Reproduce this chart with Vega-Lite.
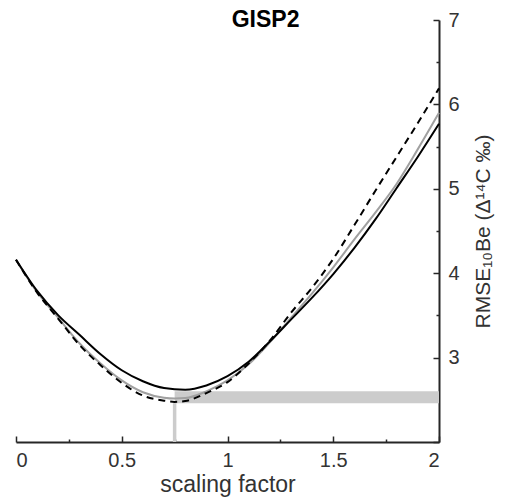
{
  "$schema": "https://vega.github.io/schema/vega-lite/v6.json",
  "autosize": "none",
  "padding": {"left": 16, "top": 20, "right": 66, "bottom": 59},
  "width": 423,
  "height": 422,
  "background": "white",
  "config": {"view": {"stroke": null}, "font": "Liberation Sans"},
  "datasets": {
    "curves": [
      {"series": "gray", "x": 0.0, "y": 4.16}, {"series": "gray", "x": 0.1, "y": 3.775}, {"series": "gray", "x": 0.2, "y": 3.47},
      {"series": "gray", "x": 0.3, "y": 3.17}, {"series": "gray", "x": 0.4, "y": 2.93}, {"series": "gray", "x": 0.5, "y": 2.73},
      {"series": "gray", "x": 0.6, "y": 2.59}, {"series": "gray", "x": 0.7, "y": 2.525}, {"series": "gray", "x": 0.75, "y": 2.515},
      {"series": "gray", "x": 0.8, "y": 2.52}, {"series": "gray", "x": 0.9, "y": 2.6}, {"series": "gray", "x": 1.0, "y": 2.73},
      {"series": "gray", "x": 1.1, "y": 2.92}, {"series": "gray", "x": 1.2, "y": 3.18}, {"series": "gray", "x": 1.3, "y": 3.47},
      {"series": "gray", "x": 1.4, "y": 3.76}, {"series": "gray", "x": 1.5, "y": 4.07}, {"series": "gray", "x": 1.6, "y": 4.4},
      {"series": "gray", "x": 1.7, "y": 4.72}, {"series": "gray", "x": 1.8, "y": 5.06}, {"series": "gray", "x": 1.9, "y": 5.47},
      {"series": "gray", "x": 2.0, "y": 5.9},
      {"series": "black", "x": 0.0, "y": 4.16}, {"series": "black", "x": 0.1, "y": 3.79}, {"series": "black", "x": 0.2, "y": 3.5},
      {"series": "black", "x": 0.3, "y": 3.27}, {"series": "black", "x": 0.4, "y": 3.04}, {"series": "black", "x": 0.5, "y": 2.85},
      {"series": "black", "x": 0.6, "y": 2.72}, {"series": "black", "x": 0.7, "y": 2.64}, {"series": "black", "x": 0.8, "y": 2.62},
      {"series": "black", "x": 0.9, "y": 2.67}, {"series": "black", "x": 1.0, "y": 2.78}, {"series": "black", "x": 1.1, "y": 2.95},
      {"series": "black", "x": 1.2, "y": 3.19}, {"series": "black", "x": 1.3, "y": 3.45}, {"series": "black", "x": 1.4, "y": 3.71},
      {"series": "black", "x": 1.5, "y": 3.99}, {"series": "black", "x": 1.6, "y": 4.3}, {"series": "black", "x": 1.7, "y": 4.64},
      {"series": "black", "x": 1.8, "y": 5.01}, {"series": "black", "x": 1.9, "y": 5.38}, {"series": "black", "x": 2.0, "y": 5.77},
      {"series": "dashed", "x": 0.0, "y": 4.16}, {"series": "dashed", "x": 0.1, "y": 3.77}, {"series": "dashed", "x": 0.2, "y": 3.46},
      {"series": "dashed", "x": 0.3, "y": 3.15}, {"series": "dashed", "x": 0.4, "y": 2.91}, {"series": "dashed", "x": 0.5, "y": 2.7},
      {"series": "dashed", "x": 0.6, "y": 2.55}, {"series": "dashed", "x": 0.7, "y": 2.49}, {"series": "dashed", "x": 0.75, "y": 2.475},
      {"series": "dashed", "x": 0.8, "y": 2.485}, {"series": "dashed", "x": 0.9, "y": 2.58}, {"series": "dashed", "x": 1.0, "y": 2.71},
      {"series": "dashed", "x": 1.1, "y": 2.93}, {"series": "dashed", "x": 1.2, "y": 3.2}, {"series": "dashed", "x": 1.3, "y": 3.53},
      {"series": "dashed", "x": 1.4, "y": 3.83}, {"series": "dashed", "x": 1.5, "y": 4.17}, {"series": "dashed", "x": 1.6, "y": 4.57},
      {"series": "dashed", "x": 1.7, "y": 4.98}, {"series": "dashed", "x": 1.8, "y": 5.38}, {"series": "dashed", "x": 1.9, "y": 5.78},
      {"series": "dashed", "x": 2.0, "y": 6.19}
    ],
    "band": [{"x": 0.75, "x2": 2, "ylo": 2.46, "yhi": 2.6}],
    "marker": [{"x": 0.75, "ylo": 2, "yhi": 2.46}],
    "label": [{"x": 1.18, "y": 6.92, "text": "GISP2"}]
  },
  "layer": [
    {
      "data": {"name": "band"},
      "mark": {"type": "rect", "color": "#cccccc"},
      "encoding": {
        "x": {"field": "x", "type": "quantitative", "scale": {"domain": [0, 2], "nice": false},
          "axis": {
            "orient": "bottom",
            "values": [0, 0.25, 0.5, 0.75, 1, 1.25, 1.5, 1.75, 2],
            "format": "~g",
            "labelExpr": "(datum.value * 2) % 1 == 0 ? datum.label : ''",
            "grid": false,
            "domainColor": "#262626", "domainWidth": 2,
            "tickColor": "#262626", "tickWidth": 1.5,
            "tickSize": {"condition": {"test": "(datum.value * 2) % 1 == 0", "value": -6}, "value": -3},
            "labelFont": "Liberation Sans", "labelFontSize": 20, "labelColor": "#333333", "labelPadding": 14,
            "title": "scaling factor", "titleFont": "Liberation Sans", "titleFontSize": 23, "titleFontWeight": "normal",
            "titleColor": "#333333", "titlePadding": 3
          }},
        "x2": {"field": "x2"},
        "y": {"field": "ylo", "type": "quantitative", "scale": {"domain": [2, 7], "nice": false},
          "axis": {
            "orient": "right",
            "values": [2, 2.5, 3, 3.5, 4, 4.5, 5, 5.5, 6, 6.5, 7],
            "format": "~g",
            "labelExpr": "datum.value % 1 == 0 && datum.value > 2 ? datum.label : ''",
            "grid": false,
            "domainColor": "#262626", "domainWidth": 2,
            "tickColor": "#262626", "tickWidth": 1.5,
            "tickSize": {"condition": {"test": "datum.value % 1 == 0", "value": -6}, "value": -3},
            "labelFont": "Liberation Sans", "labelFontSize": 20, "labelColor": "#333333", "labelPadding": 15,
            "title": "RMSE₁₀Be (Δ¹⁴C ‰)", "titleFont": "Liberation Sans", "titleFontSize": 21, "titleFontWeight": "normal",
            "titleColor": "#333333", "titleAngle": 270, "titleBaseline": "top", "titlePadding": 13
          }},
        "y2": {"field": "yhi"}
      }
    },
    {
      "data": {"name": "marker"},
      "mark": {"type": "rule", "color": "#cccccc", "strokeWidth": 3.5},
      "encoding": {
        "x": {"field": "x", "type": "quantitative"},
        "y": {"field": "ylo", "type": "quantitative"},
        "y2": {"field": "yhi"}
      }
    },
    {
      "data": {"name": "curves"},
      "transform": [{"filter": "datum.series == 'gray'"}],
      "mark": {"type": "line", "color": "#a0a0a0", "strokeWidth": 2, "interpolate": "monotone"},
      "encoding": {"x": {"field": "x", "type": "quantitative"}, "y": {"field": "y", "type": "quantitative"}}
    },
    {
      "data": {"name": "curves"},
      "transform": [{"filter": "datum.series == 'black'"}],
      "mark": {"type": "line", "color": "#000000", "strokeWidth": 2, "interpolate": "monotone"},
      "encoding": {"x": {"field": "x", "type": "quantitative"}, "y": {"field": "y", "type": "quantitative"}}
    },
    {
      "data": {"name": "curves"},
      "transform": [{"filter": "datum.series == 'dashed'"}],
      "mark": {"type": "line", "color": "#000000", "strokeWidth": 2, "strokeDash": [7, 5], "interpolate": "monotone"},
      "encoding": {"x": {"field": "x", "type": "quantitative"}, "y": {"field": "y", "type": "quantitative"}}
    },
    {
      "data": {"name": "label"},
      "mark": {"type": "text", "font": "Liberation Sans", "fontWeight": "bold", "fontSize": 23, "baseline": "alphabetic", "align": "center", "color": "#000000"},
      "encoding": {"x": {"field": "x", "type": "quantitative"}, "y": {"field": "y", "type": "quantitative"}, "text": {"field": "text"}}
    }
  ]
}
